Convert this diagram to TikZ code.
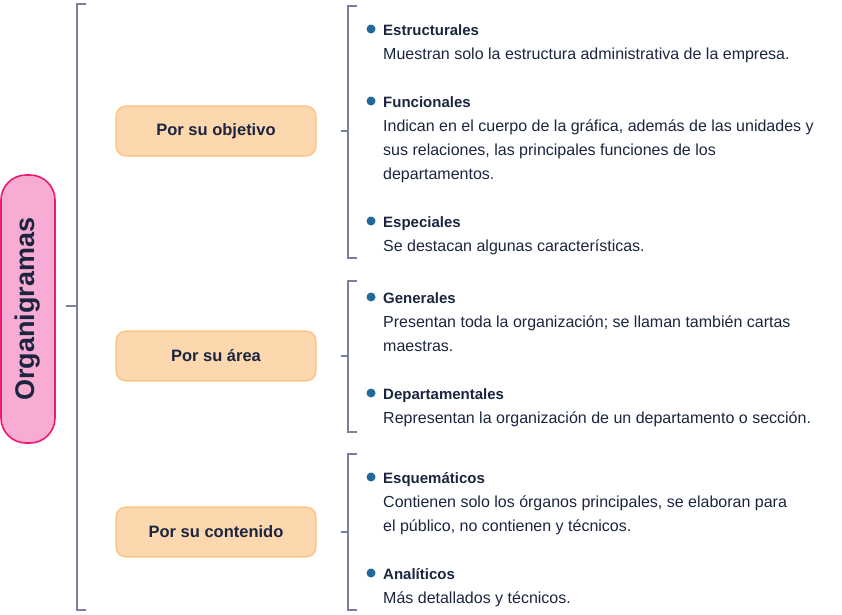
\documentclass[tikz,border=0pt]{standalone}
\usepackage{fontspec}
\setmainfont{Liberation Sans}
\definecolor{inkc}{HTML}{1B2540}
\definecolor{brkc}{HTML}{7A7F9F}
\definecolor{pinkf}{HTML}{F9ACD3}
\definecolor{pinkd}{HTML}{EC1A72}
\definecolor{orgf}{HTML}{FDD8AE}
\definecolor{orgd}{HTML}{FBC27C}
\definecolor{dotc}{HTML}{236A9B}
\tikzset{
  brk/.style={draw=brkc, line width=2.4pt},
  rootbox/.style={draw=pinkd, fill=pinkf, line width=1.6pt, rounded corners=25pt,
    minimum width=268pt, minimum height=54pt, rotate=90,
    font=\fontsize{27}{30}\selectfont\bfseries, text=inkc},
  kindbox/.style={draw=orgd, fill=orgf, line width=1.2pt, rounded corners=10pt,
    minimum width=200pt, minimum height=50pt,
    font=\fontsize{16.5}{20}\selectfont\bfseries, text=inkc},
  itemhead/.style={anchor=base west, inner sep=0pt, text=inkc,
    font=\fontsize{15}{24}\selectfont\bfseries},
  % multi-line body: base is the last line
  itembody/.style={anchor=base west, inner sep=0pt, text=inkc, align=left,
    font=\fontsize{16}{24}\selectfont},
  itemdot/.style={circle, fill=dotc, inner sep=0pt, minimum size=9pt}
}
\begin{document}
\begin{tikzpicture}[x=1pt,y=-1pt]
\useasboundingbox (0,0) rectangle (842,614);

% root and its bracket
\node[rootbox] (org) at (28,309) {Organigramas};
\coordinate (rtop) at (86,4);
\coordinate (rbot) at (86,610);
\coordinate (rmid) at (66,306);
\draw[brk] (rtop) -- (77,4) -- (77,610) -- (rbot);
\draw[brk] (rmid) -- (77,306);

% the three kinds
\node[kindbox] (obj) at (216,131) {Por su objetivo};
\node[kindbox] (are) at (216,356) {Por su área};
\node[kindbox] (con) at (216,532) {Por su contenido};

% brackets of the kinds
\draw[brk] (357,6) -- (348,6) -- (348,258) -- (357,258);
\draw[brk] (obj.east) ++(24,0) coordinate (objt) -- (348,131);
\draw[brk] (357,281) -- (348,281) -- (348,432) -- (357,432);
\draw[brk] (are.east) ++(24,0) coordinate (aret) -- (348,356);
\draw[brk] (357,454) -- (348,454) -- (348,610) -- (357,610);
\draw[brk] (con.east) ++(24,0) coordinate (cont) -- (348,532);

% items, objetivo
\node[itemdot] (d1) at (371,29) {};
\node[itemhead] (h1) at (383,35) {Estructurales};
\node[itembody] (b1) at (383,59) {Muestran solo la estructura administrativa de la empresa.};
\node[itemdot] (d2) at (371,101) {};
\node[itemhead] (h2) at (383,107) {Funcionales};
\node[itembody] (b2) at (383,179) {Indican en el cuerpo de la gráfica, además de las unidades y\\sus relaciones, las principales funciones de los\\departamentos.};
\node[itemdot] (d3) at (371,221) {};
\node[itemhead] (h3) at (383,227) {Especiales};
\node[itembody] (b3) at (383,251) {Se destacan algunas características.};

% items, area
\node[itemdot] (d4) at (371,297) {};
\node[itemhead] (h4) at (383,303) {Generales};
\node[itembody] (b4) at (383,351) {Presentan toda la organización; se llaman también cartas\\maestras.};
\node[itemdot] (d5) at (371,393) {};
\node[itemhead] (h5) at (383,399) {Departamentales};
\node[itembody] (b5) at (383,423) {Representan la organización de un departamento o sección.};

% items, contenido
\node[itemdot] (d6) at (371,477) {};
\node[itemhead] (h6) at (383,483) {Esquemáticos};
\node[itembody] (b6) at (383,531) {Contienen solo los órganos principales, se elaboran para\\el público, no contienen y técnicos.};
\node[itemdot] (d7) at (371,573) {};
\node[itemhead] (h7) at (383,579) {Analíticos};
\node[itembody] (b7) at (383,603) {Más detallados y técnicos.};

\end{tikzpicture}
\end{document}
